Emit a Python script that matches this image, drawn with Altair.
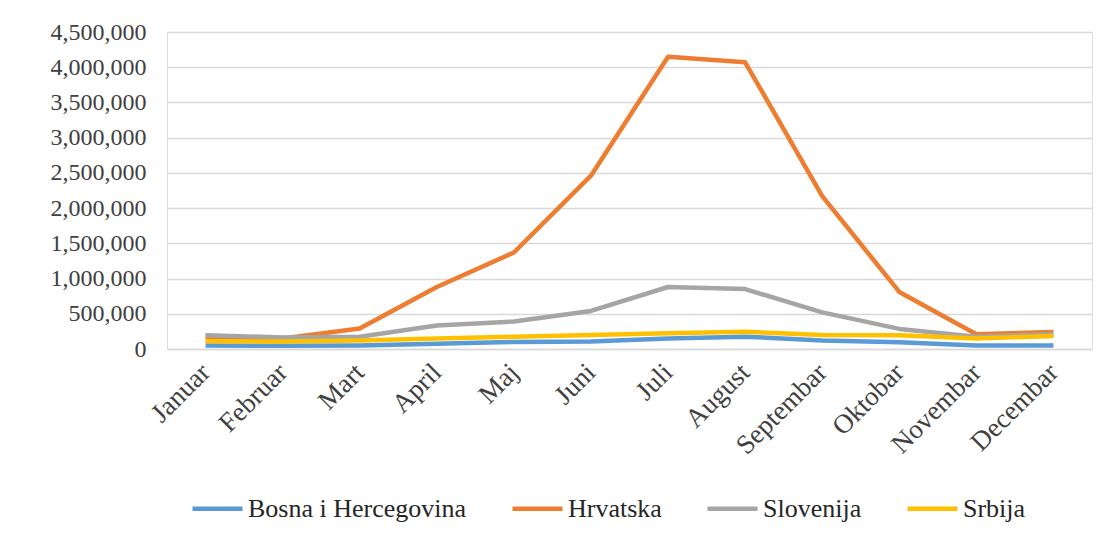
import altair as alt
import pandas as pd

months = ["Januar", "Februar", "Mart", "April", "Maj", "Juni", "Juli",
          "August", "Septembar", "Oktobar", "Novembar", "Decembar"]
series = ["Bosna i Hercegovina", "Hrvatska", "Slovenija", "Srbija"]
colors = ["#5B9BD5", "#ED7D31", "#A5A5A5", "#FFC000"]

bih = [50000, 45000, 50000, 75000, 100000, 105000, 150000, 175000, 120000, 95000, 50000, 50000]
hrvatska = [170000, 150000, 290000, 880000, 1370000, 2460000, 4150000, 4070000, 2170000, 810000, 210000, 240000]
slovenija = [195000, 165000, 175000, 335000, 390000, 540000, 880000, 850000, 520000, 285000, 175000, 210000]
srbija = [110000, 105000, 120000, 150000, 175000, 200000, 225000, 245000, 200000, 195000, 150000, 185000]

rows = []
for name, vals in zip(series, [bih, hrvatska, slovenija, srbija]):
    for m, v in zip(months, vals):
        rows.append({"Mjesec": m, "Serija": name, "Vrijednost": v})
df = pd.DataFrame(rows)

FONT = "Liberation Serif"

chart = alt.Chart(df).mark_line(strokeWidth=4.5, strokeJoin="round").encode(
    x=alt.X("Mjesec:N", sort=months,
            scale=alt.Scale(type="point", padding=0.5),
            axis=alt.Axis(title=None, labelAngle=-45, labelFont=FONT, labelFontSize=27,
                          labelColor="#404040", ticks=False, domainColor="#D9D9D9",
                          domainWidth=1.3, labelPadding=19, grid=False,
                          labelAlign="right", labelBaseline="middle")),
    y=alt.Y("Vrijednost:Q",
            scale=alt.Scale(domain=[0, 4500000], nice=False),
            axis=alt.Axis(title=None, values=list(range(0, 4500001, 500000)), format=",d",
                          labelFont=FONT, labelFontSize=24, labelColor="#404040",
                          ticks=False, domain=False, gridColor="#D9D9D9", gridWidth=1.3,
                          labelPadding=21)),
    color=alt.Color("Serija:N", sort=series,
                    scale=alt.Scale(domain=series, range=colors),
                    legend=alt.Legend(title=None, orient="none", direction="horizontal",
                                      legendX=23, legendY=449,
                                      symbolType="stroke", symbolSize=2500,
                                      symbolStrokeWidth=4.5, labelFont=FONT,
                                      labelFontSize=26, labelColor="#262626",
                                      labelOffset=3, columnPadding=36,
                                      labelLimit=400)),
    order=alt.Order("Serija:N"),
).properties(
    width=925, height=317,
    autosize=alt.AutoSizeParams(type="none"),
    padding={"left": 159, "top": 24, "right": 19, "bottom": 177},
).configure_view(stroke=None).configure(background="white")

chart.save("out.html", embed_options={"renderer": "svg", "actions": False})
